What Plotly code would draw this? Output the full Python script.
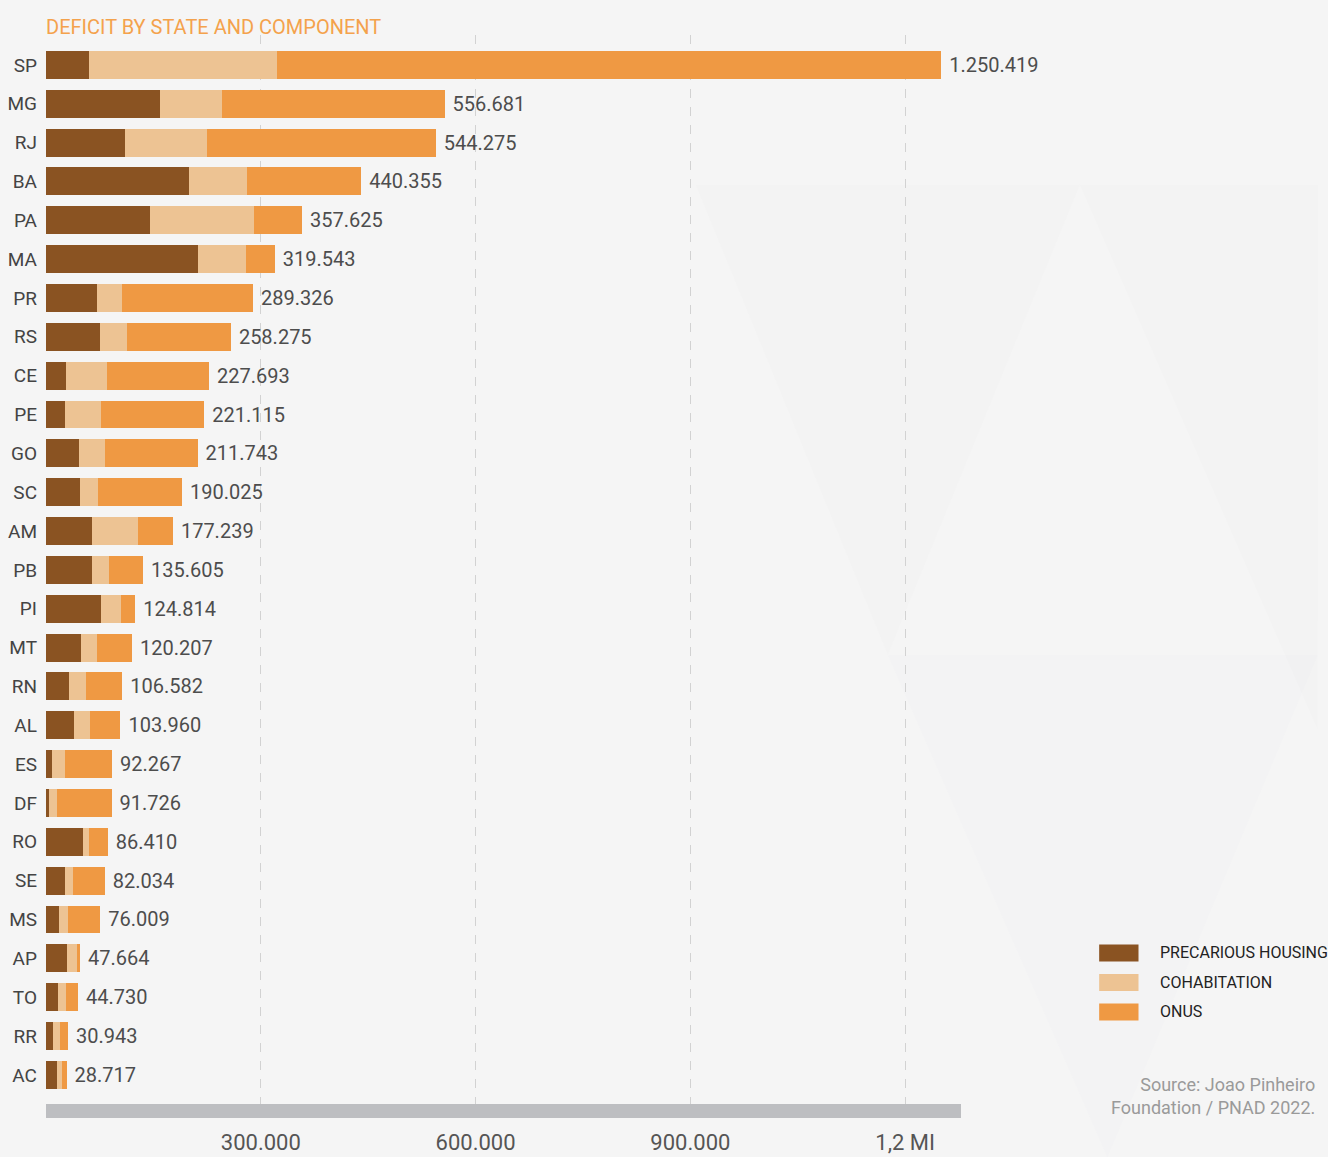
import plotly.graph_objects as go

# deficit by state, split into components
states = ["SP", "MG", "RJ", "BA", "PA", "MA", "PR", "RS", "CE", "PE", "GO", "SC", "AM", "PB",
          "PI", "MT", "RN", "AL", "ES", "DF", "RO", "SE", "MS", "AP", "TO", "RR", "AC"]
precarious = [60100, 159300, 110400, 199800, 145300, 212300, 71200, 75400, 27900, 26500, 46100,
              47500, 64300, 64300, 76800, 48900, 32100, 39100, 8400, 4200, 51700, 26500, 18200,
              29300, 16800, 9800, 15400]
cohabitation = [262600, 86600, 114500, 81000, 145300, 67100, 35000, 37800, 57300, 50300, 36300,
                25100, 64300, 23700, 28000, 22300, 23800, 22400, 18100, 11200, 8400, 11200, 12500,
                14000, 11100, 9800, 7000]
onus = [927700, 310800, 319400, 159600, 67000, 40100, 183100, 145100, 142500, 144300, 129300,
        117400, 48700, 47600, 20000, 49000, 50700, 42500, 65700, 76300, 26300, 44300, 45300,
        4400, 16800, 11300, 6300]
totals = ["1.250.419", "556.681", "544.275", "440.355", "357.625", "319.543", "289.326",
          "258.275", "227.693", "221.115", "211.743", "190.025", "177.239", "135.605", "124.814",
          "120.207", "106.582", "103.960", "92.267", "91.726", "86.410", "82.034", "76.009",
          "47.664", "44.730", "30.943", "28.717"]
tick_vals = [300000, 600000, 900000, 1200000]
tick_text = ["300.000", "600.000", "900.000", "1,2 MI"]

series_names = ["PRECARIOUS HOUSING", "COHABITATION", "ONUS"]
colors = ["#8A5322", "#EDC393", "#EF9943"]

FONT = "Roboto, sans-serif"

fig = go.Figure()
for name, vals, col in zip(series_names, [precarious, cohabitation, onus], colors):
    is_last = name == "ONUS"
    fig.add_trace(go.Bar(
        y=states,
        x=vals,
        name=name,
        orientation="h",
        marker_color=col,
        marker_line_width=0,
        text=[" " + t for t in totals] if is_last else None,
        textposition="outside" if is_last else "none",
        textfont=dict(family=FONT, size=20, color="#4D4D4D"),
        constraintext="none",
        cliponaxis=False,
        showlegend=False,
        hoverinfo="x+y+name",
    ))

# faint background triangles
for path, fill in [
    ("M 0.71,0.86 L 1.13,0.86 L 0.92,0.42 Z", "rgba(225,228,232,0.07)"),
    ("M 1.13,0.86 L 1.39,0.86 L 1.39,0.35 Z", "rgba(225,228,232,0.07)"),
    ("M 0.92,0.42 L 1.39,0.42 L 1.16,-0.05 Z", "rgba(225,228,232,0.06)"),
]:
    fig.add_shape(type="path", xref="paper", yref="paper", path=path,
                  fillcolor=fill, line_width=0, layer="below")

# legend drawn as wide swatches like the original
for i, (name, col) in enumerate(zip(series_names, colors)):
    y0 = 0.1413 - i * 0.0276
    fig.add_shape(type="rect", xref="paper", yref="paper",
                  x0=1.151, x1=1.194, y0=y0 - 0.008, y1=y0 + 0.008,
                  fillcolor=col, line_width=0)
    fig.add_annotation(text=name, xref="paper", yref="paper", x=1.2153, y=y0,
                       xanchor="left", yanchor="middle", showarrow=False,
                       font=dict(family=FONT, size=16, color="#222222"))

fig.add_annotation(text="Source: Joao Pinheiro<br>Foundation / PNAD 2022.",
                   xref="paper", yref="paper", x=1.3896, y=-0.0154,
                   xanchor="right", yanchor="bottom", align="right", showarrow=False,
                   font=dict(family=FONT, size=18, color="#9A9A9A"))

fig.update_layout(
    width=1328,
    height=1157,
    title=dict(text="DEFICIT BY STATE AND COMPONENT", x=46 / 1328, xanchor="left",
               y=1 - 27 / 1157, yanchor="middle",
               font=dict(family=FONT, size=20, color="#F4A24C")),
    barmode="stack",
    bargap=0.28,
    paper_bgcolor="#F5F5F5",
    plot_bgcolor="rgba(0,0,0,0)",
    margin=dict(l=46, r=367, t=35, b=53),
    xaxis=dict(
        range=[0, 1278000],
        tickvals=tick_vals,
        ticktext=tick_text,
        tickfont=dict(family=FONT, size=22, color="#555555"),
        showgrid=True,
        gridcolor="#D2D2D2",
        griddash="dash",
        gridwidth=1,
        zeroline=False,
        showline=True,
        linecolor="#BDBEC1",
        linewidth=14,
        ticks="",
        ticklabelstandoff=6,
        automargin=False,
    ),
    yaxis=dict(
        range=[26.75, -0.77],
        autorange=False,
        tickfont=dict(family=FONT, size=19, color="#444444"),
        showgrid=False,
        zeroline=False,
        ticks="",
        ticklabelstandoff=8,
        automargin=False,
    ),
)

fig.write_html("out.html", config={"displayModeBar": False},
               post_script="document.body.style.margin='0';")
